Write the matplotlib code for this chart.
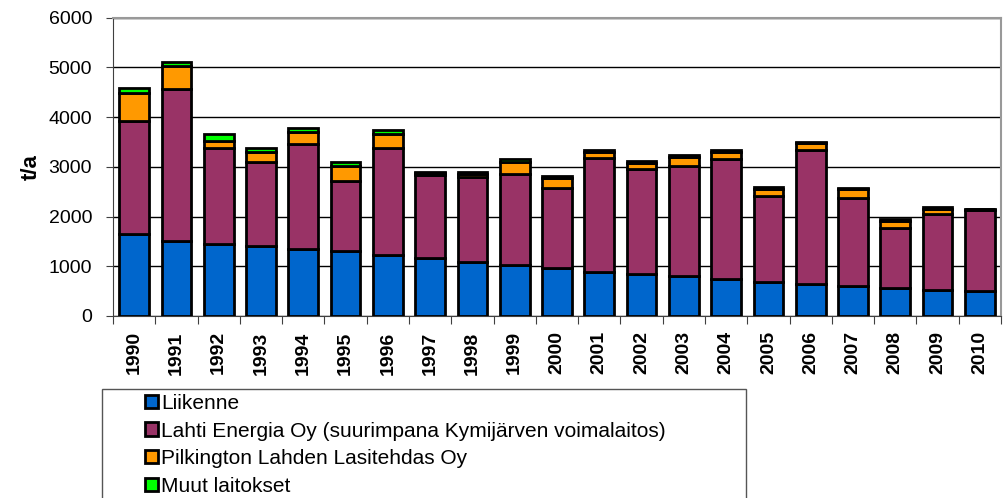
import numpy as np
import matplotlib
matplotlib.use("Agg")
import matplotlib.pyplot as plt
from matplotlib.patches import Rectangle

plt.rcParams["font.family"] = ["Liberation Sans", "DejaVu Sans"]

# data (t/a)
years = [str(y) for y in range(1990, 2011)]
liikenne = [1640, 1510, 1450, 1410, 1345, 1300, 1225, 1165, 1090, 1025, 960,
            890, 845, 810, 745, 690, 645, 610, 560, 530, 500]
lahti_energia = [2280, 3050, 1920, 1680, 2110, 1420, 2160, 1670, 1695, 1830, 1610,
                 2280, 2110, 2210, 2410, 1730, 2700, 1770, 1210, 1520, 1630]
pilkington = [570, 470, 140, 200, 235, 290, 270, 30, 60, 250, 200,
              130, 130, 170, 150, 135, 130, 165, 145, 100, 15]
muut = [100, 80, 150, 80, 90, 80, 80, 30, 40, 50, 40,
        40, 40, 40, 40, 30, 30, 30, 30, 40, 15]

series = [
    ("Liikenne", liikenne, "#0066CC"),
    ("Lahti Energia Oy (suurimpana Kymijärven voimalaitos)", lahti_energia, "#993366"),
    ("Pilkington Lahden Lasitehdas Oy", pilkington, "#FF9900"),
    ("Muut laitokset", muut, "#00FF00"),
]

fig = plt.figure(figsize=(10.05, 4.98), dpi=100)
ax = fig.add_axes([113 / 1005, 1 - 316 / 498, (1001 - 113) / 1005, (316 - 17.5) / 498])

x = np.arange(len(years))
bottom = np.zeros(len(years))
handles = []
for label, values, color in series:
    bars = ax.bar(x, values, width=0.7, bottom=bottom, color=color,
                  edgecolor="black", linewidth=2, label=label, zorder=3)
    handles.append(bars)
    bottom += np.array(values)

ax.set_xlim(-0.5, len(years) - 0.5)
ax.set_ylim(0, 6000)
ax.set_yticks(range(0, 6001, 1000))
ax.yaxis.grid(True, color="black", linewidth=1, zorder=0)

# tick marks between categories, labels at the centres
ax.set_xticks(np.arange(-0.5, len(years), 1.0))
ax.set_xticklabels([])
ax.set_xticks(x, minor=True)
ax.set_xticklabels(years, minor=True, rotation=90, fontsize=14, fontweight="bold")
ax.tick_params(axis="x", which="major", length=6, color="#404040")
ax.tick_params(axis="x", which="minor", length=0, pad=11)
ax.tick_params(axis="y", length=5, pad=10, labelsize=14, color="#404040")

ax.set_ylabel("t/a", fontsize=16, fontweight="bold", labelpad=5)

for side in ["top", "right"]:
    ax.spines[side].set_color("#999999")
    ax.spines[side].set_linewidth(1.5)
for side in ["left", "bottom"]:
    ax.spines[side].set_color("#404040")

# legend box runs off the bottom of the figure
fig.patches.append(Rectangle((102 / 1005, -0.05), (746 - 102) / 1005, 0.05 + (498 - 389) / 498,
                             transform=fig.transFigure, fill=False,
                             edgecolor="#555555", linewidth=1))
fig.legend(handles=handles, loc="upper left", bbox_to_anchor=(145 / 1005, 1 - 394 / 498),
           frameon=False, fontsize=15, handlelength=0.62, handleheight=0.62,
           handletextpad=0.15, labelspacing=0.41, borderaxespad=0, borderpad=0)

fig.savefig("out.png", dpi=100)
